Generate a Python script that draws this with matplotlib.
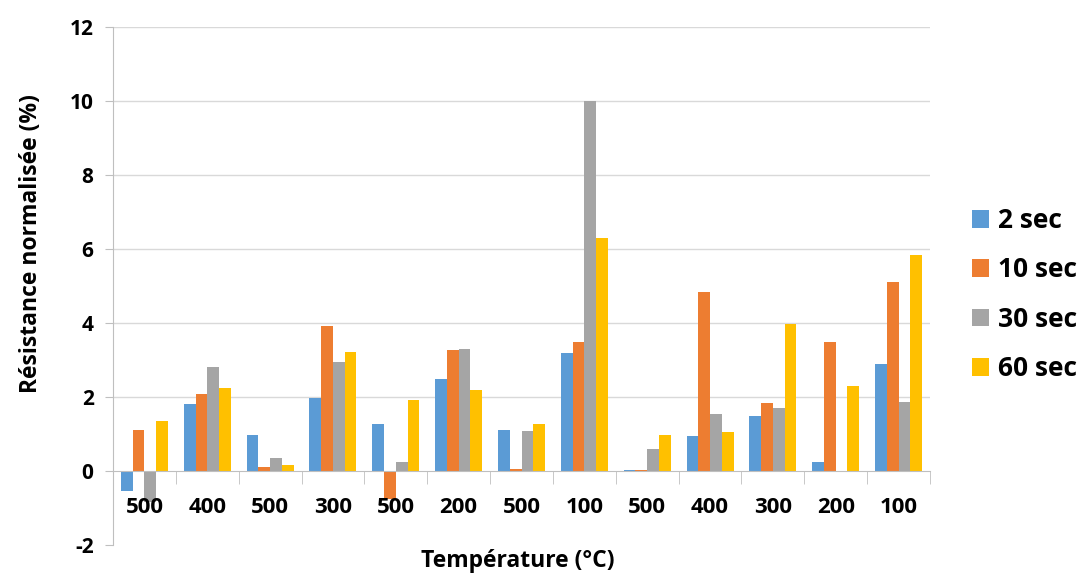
import matplotlib.pyplot as plt
import numpy as np

plt.rcParams['font.family'] = ['Open Sans', 'DejaVu Sans']
plt.rcParams['font.weight'] = 'bold'
plt.rcParams['axes.unicode_minus'] = False

temps = ['500', '400', '500', '300', '500', '200', '500', '100',
         '500', '400', '300', '200', '100']
series = ['2 sec', '10 sec', '30 sec', '60 sec']
s2 = [-0.55, 1.8, 0.97, 1.97, 1.28, 2.5, 1.1, 3.18, 0.02, 0.95, 1.5, 0.25, 2.88]
s10 = [1.1, 2.08, 0.12, 3.93, -0.75, 3.27, 0.05, 3.5, 0.03, 4.85, 1.83, 3.5, 5.12]
s30 = [-0.85, 2.8, 0.35, 2.95, 0.25, 3.3, 1.07, 10.0, 0.6, 1.55, 1.7, 0.0, 1.87]
s60 = [1.35, 2.25, 0.17, 3.22, 1.92, 2.2, 1.28, 6.3, 0.98, 1.05, 3.98, 2.3, 5.83]
colors = ['#5B9BD5', '#ED7D31', '#A5A5A5', '#FFC000']

fig = plt.figure(figsize=(10.84, 5.73), dpi=100)
ax = fig.add_axes([113/1084, 1-545/573, (930-113)/1084, (545-27)/573])

x = np.arange(len(temps))
w = 0.187
for yv in range(2, 13, 2):
    ax.axhline(yv, color='#D9D9D9', linewidth=1, zorder=0)
for i, (vals, c, lab) in enumerate(zip([s2, s10, s30, s60], colors, series)):
    ax.bar(x + (i - 1.5)*w, vals, width=w, color=c, label=lab, zorder=1)

ax.set_xlim(-0.5, len(temps) - 0.5)
ax.set_ylim(-2, 12)
ax.set_yticks(range(-2, 13, 2))
ax.tick_params(axis='y', direction='out', length=6, color='#BFBFBF',
               labelsize=15, pad=8)

ax.spines['bottom'].set_position(('data', 0))
ax.spines['bottom'].set_color('#BFBFBF')
ax.spines['left'].set_color('#BFBFBF')
ax.spines['top'].set_visible(False)
ax.spines['right'].set_visible(False)

ax.set_xticks(x)
ax.set_xticklabels(temps)
ax.tick_params(axis='x', which='major', length=0, labelsize=16, pad=19)
ax.set_xticks(np.arange(len(temps) + 1) - 0.5, minor=True)
ax.tick_params(axis='x', which='minor', direction='out', length=9, color='#BFBFBF')

fig.text(31/1084, 1-244/573, 'Résistance normalisée (%)', rotation=90,
         ha='center', va='center', fontsize=16.5)
fig.text(518/1084, 1-561/573, 'Température (°C)', ha='center', va='center',
         fontsize=16.5)

leg = fig.legend(loc='upper left', bbox_to_anchor=(972/1084, 1-207/573),
                 frameon=False, fontsize=19, handlelength=0.65, handleheight=0.65,
                 handletextpad=0.35, labelspacing=0.85, borderpad=0,
                 borderaxespad=0)

fig.savefig('out.png', dpi=100)
